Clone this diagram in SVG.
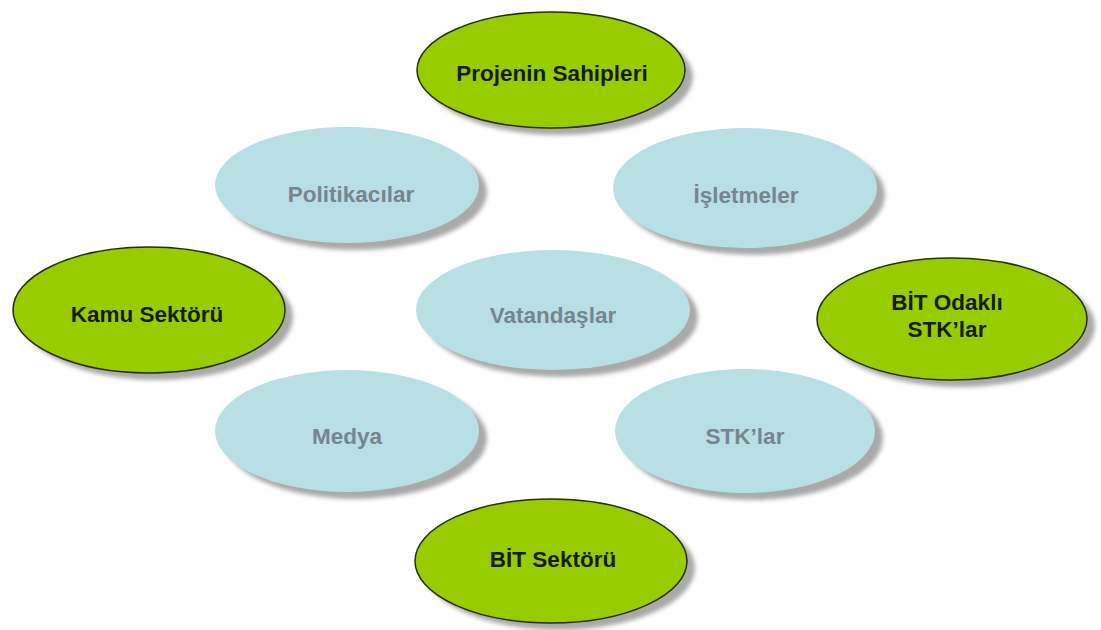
<svg xmlns="http://www.w3.org/2000/svg" width="1101" height="630" viewBox="0 0 1101 630">
<defs>
<filter id="blur" x="-10%" y="-10%" width="120%" height="120%"><feGaussianBlur stdDeviation="2"/></filter>
</defs>
<style>
.sh{fill:#a9a9a9;filter:url(#blur)}
.g{fill:#99cc00;stroke:#243000;stroke-width:1.5}
.b{fill:#b7dfe4}
.tg{font-family:"Liberation Sans",Arial,sans-serif;font-weight:bold;font-size:22.5px;fill:#141c00;text-anchor:middle}
.tb{font-family:"Liberation Sans",Arial,sans-serif;font-weight:bold;font-size:22.5px;fill:#76868c;text-anchor:middle}
</style>
<rect width="1101" height="630" fill="#ffffff"/>
<g id="connectors"></g>
<g id="politikacilar">
<ellipse class="sh" cx="355" cy="192" rx="132" ry="58"/>
<ellipse class="b" cx="347" cy="185" rx="132" ry="58"/>
<text class="tb" x="351" y="202">Politikacılar</text>
</g>
<g id="isletmeler">
<ellipse class="sh" cx="753" cy="195" rx="132" ry="60"/>
<ellipse class="b" cx="745" cy="188" rx="132" ry="60"/>
<text class="tb" x="746" y="203">İşletmeler</text>
</g>
<g id="vatandaslar">
<ellipse class="sh" cx="561" cy="317" rx="137" ry="60"/>
<ellipse class="b" cx="553" cy="310" rx="137" ry="60"/>
<text class="tb" x="553" y="323">Vatandaşlar</text>
</g>
<g id="medya">
<ellipse class="sh" cx="355" cy="438" rx="132" ry="61"/>
<ellipse class="b" cx="347" cy="431" rx="132" ry="61"/>
<text class="tb" x="347" y="444">Medya</text>
</g>
<g id="stklar">
<ellipse class="sh" cx="753" cy="438" rx="130" ry="62"/>
<ellipse class="b" cx="745" cy="431" rx="130" ry="62"/>
<text class="tb" x="745" y="444">STK’lar</text>
</g>
<g id="projenin-sahipleri">
<ellipse class="sh" cx="559" cy="77" rx="134" ry="58"/>
<ellipse class="g" cx="551" cy="70" rx="134" ry="58"/>
<text class="tg" x="552" y="81">Projenin Sahipleri</text>
</g>
<g id="kamu-sektoru">
<ellipse class="sh" cx="157" cy="317" rx="136" ry="63"/>
<ellipse class="g" cx="149" cy="310" rx="136" ry="63"/>
<text class="tg" x="147" y="322">Kamu Sektörü</text>
</g>
<g id="bit-odakli-stklar">
<ellipse class="sh" cx="960" cy="326" rx="135" ry="61"/>
<ellipse class="g" cx="952" cy="319" rx="135" ry="61"/>
<text class="tg" x="947" y="310">BİT Odaklı</text>
<text class="tg" x="947" y="337">STK’lar</text>
</g>
<g id="bit-sektoru">
<ellipse class="sh" cx="559" cy="568" rx="136" ry="62"/>
<ellipse class="g" cx="551" cy="561" rx="136" ry="62"/>
<text class="tg" x="553" y="567">BİT Sektörü</text>
</g>
</svg>
